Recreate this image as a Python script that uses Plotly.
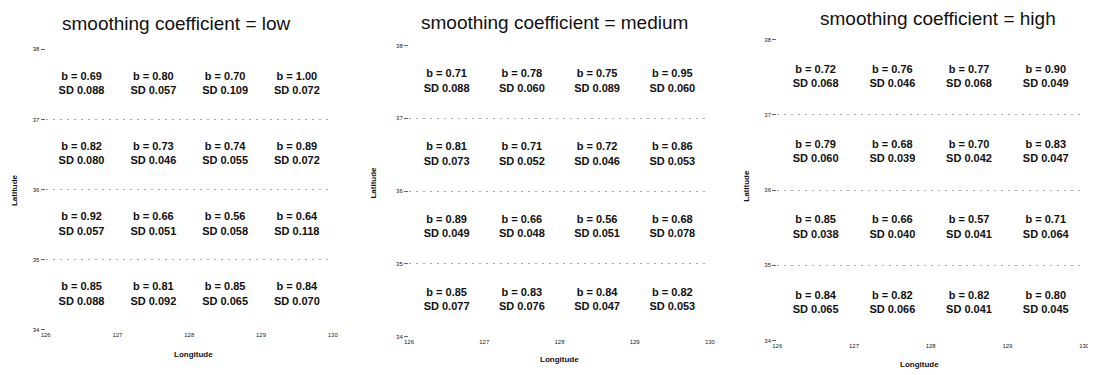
import plotly.graph_objects as go

# ---- data ----
panel_titles = ["smoothing coefficient = low", "smoothing coefficient = medium", "smoothing coefficient = high"]
lon_centers = [126.5, 127.5, 128.5, 129.5]
lat_centers = [37.5, 36.5, 35.5, 34.5]
lon_ticks = [126, 127, 128, 129, 130]
lat_ticks = [34, 35, 36, 37, 38]

b_low = [[0.69, 0.80, 0.70, 1.00], [0.82, 0.73, 0.74, 0.89], [0.92, 0.66, 0.56, 0.64], [0.85, 0.81, 0.85, 0.84]]
sd_low = [[0.088, 0.057, 0.109, 0.072], [0.080, 0.046, 0.055, 0.072], [0.057, 0.051, 0.058, 0.118], [0.088, 0.092, 0.065, 0.070]]
b_med = [[0.71, 0.78, 0.75, 0.95], [0.81, 0.71, 0.72, 0.86], [0.89, 0.66, 0.56, 0.68], [0.85, 0.83, 0.84, 0.82]]
sd_med = [[0.088, 0.060, 0.089, 0.060], [0.073, 0.052, 0.046, 0.053], [0.049, 0.048, 0.051, 0.078], [0.077, 0.076, 0.047, 0.053]]
b_high = [[0.72, 0.76, 0.77, 0.90], [0.79, 0.68, 0.70, 0.83], [0.85, 0.66, 0.57, 0.71], [0.84, 0.82, 0.82, 0.80]]
sd_high = [[0.068, 0.046, 0.068, 0.049], [0.060, 0.039, 0.042, 0.047], [0.038, 0.040, 0.041, 0.064], [0.065, 0.066, 0.041, 0.045]]

panels_b = [b_low, b_med, b_high]
panels_sd = [sd_low, sd_med, sd_high]

# ---- layout geometry (page pixels) ----
W, H = 1096, 375
OFF = 8  # default page body margin shifts the figure by this much
x_px = [(41, 331), (408, 712), (780, 1090)]
y_px = [(47, 332), (43, 339), (37, 343)]  # (lat 38, lat 34)
title_px = [(173, 21), (555, 20), (942, 16)]
lonlab_px = [(190, 357), (560, 362), (924, 367)]
latlab_px = [(9, 190), (372, 182), (749, 186)]


def px_x(p):
    return (p - OFF) / W


def px_y(p):
    return 1 - (p - OFF) / H


FONT = "Liberation Sans, Arial, sans-serif"

fig = go.Figure()
for k in range(3):
    xs, ys, txt = [], [], []
    for j, lat in enumerate(lat_centers):
        for i, lon in enumerate(lon_centers):
            xs.append(lon)
            ys.append(lat)
            txt.append(f"b = {panels_b[k][j][i]:.2f}<br>SD {panels_sd[k][j][i]:.3f}")
    suffix = "" if k == 0 else str(k + 1)
    fig.add_trace(go.Scatter(
        x=xs, y=ys, text=txt, mode="text",
        textfont=dict(family=FONT, size=11, color="#111", weight="bold"),
        textposition="middle center", showlegend=False, hoverinfo="skip",
        xaxis="x" + suffix, yaxis="y" + suffix,
    ))
    xd = [px_x(x_px[k][0]), px_x(x_px[k][1])]
    yd = [px_y(y_px[k][1]), px_y(y_px[k][0])]
    fig.update_layout(**{
        "xaxis" + suffix: dict(
            domain=xd, range=[126, 130], tickvals=lon_ticks, showgrid=False,
            zeroline=False, showline=False, ticks="", ticklen=0,
            tickfont=dict(family=FONT, size=6, color="#222"),
            anchor="y" + suffix,
        ),
        "yaxis" + suffix: dict(
            domain=yd, range=[34, 38], tickvals=lat_ticks, showgrid=True,
            gridcolor="#aaaaaa", griddash="2px,5px", gridwidth=1,
            zeroline=False, showline=False, ticks="outside", ticklen=4,
            tickcolor="#666", tickfont=dict(family=FONT, size=6, color="#222"),
            anchor="x" + suffix,
        ),
    })
    fig.add_annotation(text=panel_titles[k], x=px_x(title_px[k][0]), y=px_y(title_px[k][1]),
                       xref="paper", yref="paper", showarrow=False,
                       xanchor="center", yanchor="middle",
                       font=dict(family=FONT, size=19, color="#111"))
    fig.add_annotation(text="Longitude", x=px_x(lonlab_px[k][0]), y=px_y(lonlab_px[k][1]),
                       xref="paper", yref="paper", showarrow=False,
                       xanchor="center", yanchor="middle",
                       font=dict(family=FONT, size=8, color="#111", weight="bold"))
    fig.add_annotation(text="Latitude", x=px_x(latlab_px[k][0]), y=px_y(latlab_px[k][1]),
                       xref="paper", yref="paper", showarrow=False, textangle=-90,
                       xanchor="center", yanchor="middle",
                       font=dict(family=FONT, size=8, color="#111", weight="bold"))

fig.update_layout(width=W, height=H, margin=dict(l=0, r=0, t=0, b=0),
                  plot_bgcolor="white", paper_bgcolor="white")
fig.write_html("out.html")
